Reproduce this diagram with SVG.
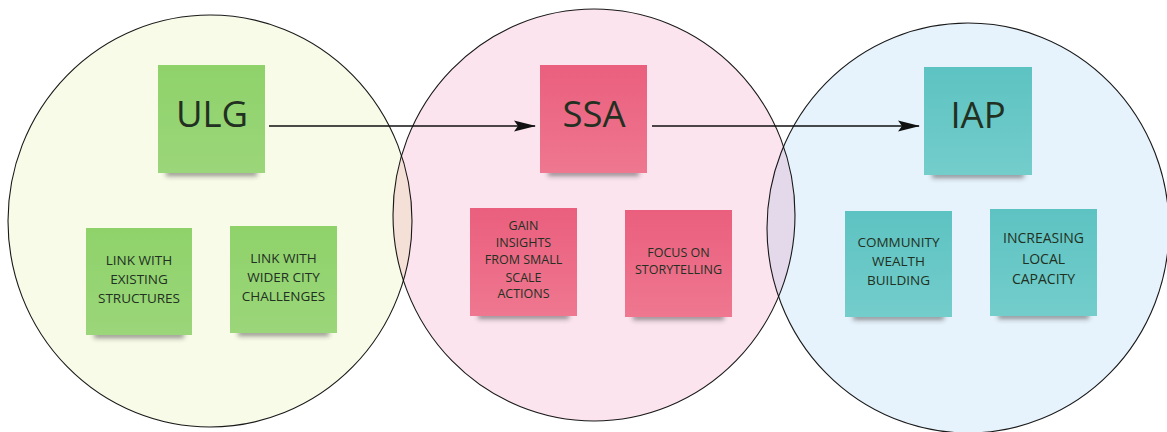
<svg xmlns="http://www.w3.org/2000/svg" width="1167" height="432" viewBox="0 0 1167 432">
<style>
.c{stroke:#1a1a1a;stroke-width:1.1;mix-blend-mode:multiply}
.t{font-family:"Open Sans","Liberation Sans",sans-serif;fill:#223022;text-anchor:middle}
.big{font-size:36.5px}
.s{font-size:13.5px}
.m{font-size:12.5px}
.sh{fill:#2a2a2a;opacity:.5;filter:url(#blur)}
.ln{stroke:#111;stroke-width:1.6;fill:none}
</style>
<defs>
<filter id="blur" x="-20%" y="-200%" width="140%" height="500%"><feGaussianBlur stdDeviation="2.8"/></filter>
<linearGradient id="gG" x1="0" y1="0" x2="0" y2="1"><stop offset="0" stop-color="#8fd26a"/><stop offset="1" stop-color="#9bd67a"/></linearGradient>
<linearGradient id="gP" x1="0" y1="0" x2="0" y2="1"><stop offset="0" stop-color="#ea5f7e"/><stop offset="1" stop-color="#ef7790"/></linearGradient>
<linearGradient id="gT" x1="0" y1="0" x2="0" y2="1"><stop offset="0" stop-color="#5dc3c2"/><stop offset="1" stop-color="#73cdcb"/></linearGradient>
<marker id="ah" viewBox="0 0 22 12" refX="21" refY="6" markerWidth="22" markerHeight="12" markerUnits="userSpaceOnUse" orient="auto"><path d="M0,0.5 L22,6 L0,11.5 L4,6 Z" fill="#111"/></marker>
</defs>
<rect width="1167" height="432" fill="#fff"/>
<g id="circles" style="isolation:isolate">
<ellipse id="circle-ulg" class="c" cx="210" cy="221" rx="202" ry="206" fill="#f8fbe7"/>
<ellipse id="circle-ssa" class="c" cx="594" cy="215" rx="201" ry="206" fill="#fbe4ee"/>
<ellipse id="circle-iap" class="c" cx="968" cy="228" rx="201" ry="205" fill="#e7f3fc"/>
</g>
<g id="connectors">
<line class="ln" x1="269" y1="126" x2="535" y2="126" marker-end="url(#ah)"/>
<line class="ln" x1="652" y1="126" x2="919" y2="126" marker-end="url(#ah)"/>
</g>
<g id="ulg">
<rect class="sh" x="166" y="170" width="91" height="6"/>
<rect x="158" y="65" width="107" height="108" fill="url(#gG)"/>
<text class="t big" x="212" y="127">ULG</text>
</g>
<g id="link-existing">
<rect class="sh" x="94" y="332" width="90" height="6"/>
<rect x="86" y="228" width="106" height="107" fill="url(#gG)"/>
<text class="t s" x="139" y="265">LINK WITH</text>
<text class="t s" x="139" y="284">EXISTING</text>
<text class="t s" x="139" y="303">STRUCTURES</text>
</g>
<g id="link-wider">
<rect class="sh" x="238" y="330" width="91" height="6"/>
<rect x="230" y="226" width="107" height="107" fill="url(#gG)"/>
<text class="t s" x="283.5" y="263">LINK WITH</text>
<text class="t s" x="283.5" y="282">WIDER CITY</text>
<text class="t s" x="283.5" y="301">CHALLENGES</text>
</g>
<g id="ssa">
<rect class="sh" x="548" y="170" width="91" height="6"/>
<rect x="540" y="65" width="107" height="108" fill="url(#gP)"/>
<text class="t big" x="594" y="127">SSA</text>
</g>
<g id="gain-insights">
<rect class="sh" x="478" y="313" width="91" height="6"/>
<rect x="470" y="208" width="107" height="108" fill="url(#gP)"/>
<text class="t m" x="523.5" y="230">GAIN</text>
<text class="t m" x="523.5" y="247">INSIGHTS</text>
<text class="t m" x="523.5" y="264">FROM SMALL</text>
<text class="t m" x="523.5" y="282">SCALE</text>
<text class="t m" x="523.5" y="298">ACTIONS</text>
</g>
<g id="focus-storytelling">
<rect class="sh" x="633" y="314" width="91" height="6"/>
<rect x="625" y="210" width="107" height="107" fill="url(#gP)"/>
<text class="t m" x="678.5" y="257">FOCUS ON</text>
<text class="t m" x="678.5" y="274">STORYTELLING</text>
</g>
<g id="iap">
<rect class="sh" x="932" y="172" width="92" height="6"/>
<rect x="924" y="67" width="108" height="108" fill="url(#gT)"/>
<text class="t big" x="978" y="128">IAP</text>
</g>
<g id="community-wealth">
<rect class="sh" x="853" y="314" width="91" height="6"/>
<rect x="845" y="211" width="107" height="106" fill="url(#gT)"/>
<text class="t s" x="898.5" y="247">COMMUNITY</text>
<text class="t s" x="898.5" y="266">WEALTH</text>
<text class="t s" x="898.5" y="285">BUILDING</text>
</g>
<g id="increasing-capacity">
<rect class="sh" x="998" y="313" width="91" height="6"/>
<rect x="990" y="209" width="107" height="107" fill="url(#gT)"/>
<text class="t s" x="1043.5" y="243" style="font-size:14px">INCREASING</text>
<text class="t s" x="1043.5" y="264" style="font-size:14px">LOCAL</text>
<text class="t s" x="1043.5" y="284" style="font-size:14px">CAPACITY</text>
</g>
</svg>
